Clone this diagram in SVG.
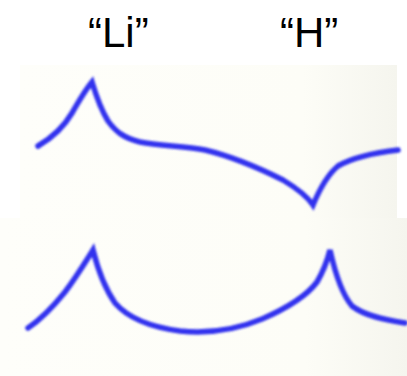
<svg xmlns="http://www.w3.org/2000/svg" width="407" height="376" viewBox="0 0 407 376">
<defs>
<style>
.lbl{font-family:"Liberation Sans",Arial,sans-serif;font-size:42px;fill:#000}
.crv{fill:none;stroke:#3030ee;stroke-width:5.5;stroke-linecap:round;stroke-linejoin:miter}
</style>
<linearGradient id="bg" x1="0" y1="0" x2="1" y2="0">
<stop offset="0" stop-color="#fefefa"/>
<stop offset="0.75" stop-color="#fdfdf7"/>
<stop offset="1" stop-color="#f5f5ee"/>
</linearGradient>
<filter id="soft" x="-5%" y="-5%" width="110%" height="110%"><feGaussianBlur stdDeviation="0.8"/></filter>
</defs>
<rect width="407" height="376" fill="#ffffff"/>
<rect x="20" y="65" width="377" height="155" fill="url(#bg)"/>
<rect x="0" y="218" width="407" height="158" fill="url(#bg)"/>
<g id="label-li"><text class="lbl" x="88" y="47">“Li”</text></g>
<g id="label-h"><text class="lbl" x="280" y="47">“H”</text></g>
<g id="curves" filter="url(#soft)">
<path class="crv" d="M38,146 C50,139 62,130 72,113 C80,99 87,88 92,82 C95,92 100,108 108,121 C116,132 124,138 140,142 C160,146 185,146 205,150 C230,156 255,166 283,180 C298,189 307,196 313,205 C318,193 326,176 338,166 C352,158 372,153 398,150"/>
<path class="crv" d="M28,328 C40,320 52,308 65,292 C77,276 86,261 93,250 C97,266 104,287 115,303 C128,318 150,327 180,331 C210,334 238,329 262,319 C285,309 305,298 317,282 C324,270 328,258 330,250 C334,268 340,292 352,306 C365,316 385,320 405,323"/>
</g>
</svg>
